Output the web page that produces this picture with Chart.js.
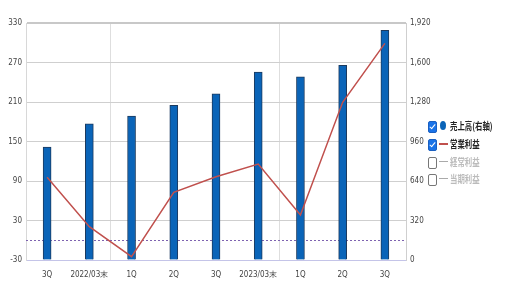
<!DOCTYPE html>
<html>
<head>
<meta charset="utf-8">
<script src="https://cdn.jsdelivr.net/npm/chart.js@4.4.1/dist/chart.umd.min.js"></script>
<style>
  html, body { margin: 0; padding: 0; background: #fff; }
  #wrap { position: relative; width: 510px; height: 295px; }
  #c { position: absolute; left: 0; top: 0; }
  .leg { position: absolute; left: 428px; font-family: "Noto Sans CJK JP", sans-serif; font-size: 10px; line-height: 12px; white-space: nowrap; }
  .row { position: absolute; left: 0; height: 12px; }
  .box { position: absolute; left: 0; top: 1px; width: 7px; height: 10px; border-radius: 2px; }
  .on { background: #1a73e8; border: 1px solid #1a5fc0; }
  .on:after { content: ""; position: absolute; left: 2px; top: 1px; width: 2px; height: 5px; border: solid #fff; border-width: 0 1.5px 1.5px 0; transform: rotate(40deg); }
  .off { background: #fff; border: 1px solid #777; }
  .mk { position: absolute; top: 0; }
  .txt { position: absolute; left: 22px; top: 0; transform: scaleX(0.74); transform-origin: left center; }
</style>
</head>
<body>
<div id="wrap">
  <canvas id="c" width="510" height="295"></canvas>
  <div class="leg" style="top:0">
    <div class="row" style="top:120px"><div class="box on"></div><div class="mk" style="left:12px;top:1px;width:6px;height:9px;border-radius:50%;background:#0a64b8"></div><div class="txt" style="color:#222;font-weight:bold">売上高(右軸)</div></div>
    <div class="row" style="top:138px"><div class="box on"></div><div class="mk" style="left:11px;top:5px;width:9px;height:2px;background:#c0504d"></div><div class="txt" style="color:#222;font-weight:bold">営業利益</div></div>
    <div class="row" style="top:156px"><div class="box off"></div><div class="mk" style="left:11px;top:5px;width:9px;height:1px;background:#aaa"></div><div class="txt" style="color:#bbb;font-weight:bold">経常利益</div></div>
    <div class="row" style="top:173px"><div class="box off"></div><div class="mk" style="left:11px;top:5px;width:9px;height:1px;background:#aaa"></div><div class="txt" style="color:#bbb;font-weight:bold">当期利益</div></div>
  </div>
</div>
<script>
const categories = ['3Q', '2022/03末', '1Q', '2Q', '3Q', '2023/03末', '1Q', '2Q', '3Q'];
const sales = [915, 1104, 1166, 1253, 1347, 1523, 1483, 1577, 1861];
const operatingProfit = [95.6, 20.6, -25, 72.8, 96.5, 115.8, 38.3, 209.5, 299];
const leftTicks = [-30, 30, 90, 150, 210, 270, 330];
const rightTicks = [0, 320, 640, 960, 1280, 1600, 1920];
const referenceValue = 0;
const yearBoundaryIndexes = [2, 6];

const tickFont = { family: "'DejaVu Sans Condensed', 'Liberation Sans Narrow', 'DejaVu Sans', sans-serif", size: 8 };

const refLine = {
  id: 'refLine',
  beforeDatasetsDraw(chart) {
    const { ctx, chartArea } = chart;
    const y = Math.round(chart.scales.y.getPixelForValue(referenceValue)) + 0.5;
    ctx.save();
    ctx.strokeStyle = '#7e63b0';
    ctx.lineWidth = 1;
    ctx.setLineDash([2, 2]);
    ctx.beginPath();
    ctx.moveTo(chartArea.left, y);
    ctx.lineTo(chartArea.right, y);
    ctx.stroke();
    ctx.restore();
  }
};

new Chart(document.getElementById('c'), {
  data: {
    labels: categories,
    datasets: [
      {
        type: 'line',
        label: '営業利益',
        data: operatingProfit,
        yAxisID: 'y',
        borderColor: '#c0504d',
        borderWidth: 1.5,
        pointRadius: 0,
        tension: 0,
        order: 0
      },
      {
        type: 'bar',
        label: '売上高(右軸)',
        data: sales,
        yAxisID: 'y1',
        backgroundColor: '#0a64b8',
        borderColor: '#1c3a5e',
        borderWidth: 1,
        barThickness: 8,
        order: 1
      }
    ]
  },
  options: {
    responsive: false,
    animation: false,
    layout: { padding: { top: 23, right: 62, left: 0, bottom: 0 } },
    plugins: { legend: { display: false }, tooltip: { enabled: false } },
    scales: {
      x: {
        offset: true,
        grid: {
          offset: true,
          color: (ctx) => yearBoundaryIndexes.includes(ctx.index) ? '#dedede' : 'rgba(0,0,0,0)',
          drawTicks: false
        },
        border: { color: '#c4c4e8', width: 1 },
        ticks: { color: '#444', font: tickFont, padding: 10, maxRotation: 0, autoSkip: false },
        afterFit(s) { s.height = 35; }
      },
      y: {
        position: 'left',
        min: -30, max: 330,
        afterBuildTicks(s) { s.ticks = leftTicks.map(v => ({ value: v })); },
        grid: { color: (ctx) => ctx.tick && ctx.tick.value === 330 ? '#c8c8c8' : '#cfcfcf', lineWidth: (ctx) => ctx.tick && ctx.tick.value === 330 ? 2 : 1, drawTicks: false },
        border: { color: '#d8d8d8' },
        ticks: { color: '#444', font: tickFont, padding: 4 },
        afterFit(s) { s.width = 26; }
      },
      y1: {
        position: 'right',
        min: 0, max: 1920,
        afterBuildTicks(s) { s.ticks = rightTicks.map(v => ({ value: v })); },
        grid: { drawOnChartArea: false, drawTicks: false },
        border: { color: '#cfcfcf' },
        ticks: { color: '#444', font: tickFont, padding: 4, callback: (v) => v.toLocaleString('en-US') },
        afterFit(s) { s.width = 42; }
      }
    }
  },
  plugins: [refLine]
});
</script>
</body>
</html>
